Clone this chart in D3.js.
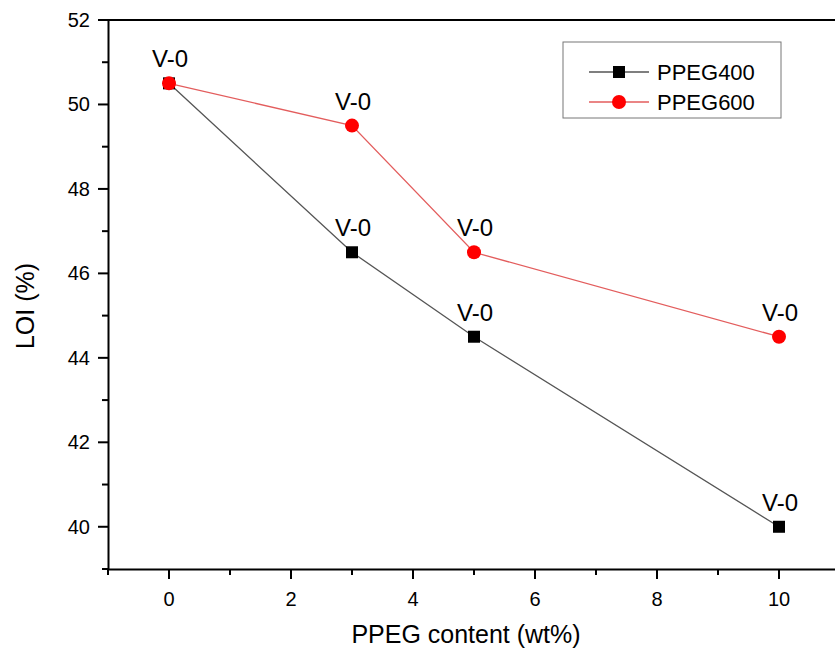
<!DOCTYPE html>
<html>
<head>
<meta charset="utf-8">
<script src="https://cdn.jsdelivr.net/npm/d3@7"></script>
<style>
  body { margin: 0; background: #fff; }
  svg { display: block; font-family: Arial, "Liberation Sans", sans-serif; }
</style>
</head>
<body>
<script>
// data
const content = [0, 3, 5, 10];
const ppeg400 = [50.5, 46.5, 44.5, 40];
const ppeg600 = [50.5, 49.5, 46.5, 44.5];
const ratings400 = ['V-0', 'V-0', 'V-0', 'V-0'];
const ratings600 = ['', 'V-0', 'V-0', 'V-0'];
const xTicks = [0, 2, 4, 6, 8, 10];
const yTicks = [40, 42, 44, 46, 48, 50, 52];

const W = 835, H = 649;
const svg = d3.select('body').append('svg').attr('width', W).attr('height', H);

const x = d3.scaleLinear().domain([-1, 11]).range([108, 840]);
const y = d3.scaleLinear().domain([39, 52]).range([569, 20]);

// frame: top line
svg.append('line')
  .attr('x1', x(-1)).attr('x2', W + 5)
  .attr('y1', y(52)).attr('y2', y(52))
  .attr('stroke', '#000').attr('stroke-width', 2);

// x axis
const xAxis = svg.append('g').attr('transform', 'translate(0,' + y(39) + ')');
xAxis.call(d3.axisBottom(x).tickValues([]).tickSize(0));
xAxis.select('.domain').attr('stroke-width', 2);
xAxis.selectAll('.mt').data(d3.range(-1, 11, 1)).enter().append('line')
  .attr('x1', d => x(d)).attr('x2', d => x(d))
  .attr('y1', 0).attr('y2', d => (d % 2 === 0 ? 10 : 6))
  .attr('stroke', '#000').attr('stroke-width', 2);
xAxis.selectAll('.xl').data(xTicks).enter().append('text')
  .attr('x', d => x(d)).attr('y', 37)
  .attr('fill', '#000')
  .attr('text-anchor', 'middle').attr('font-size', 20)
  .text(d => d);

// y axis
const yAxis = svg.append('g').attr('transform', 'translate(' + x(-1) + ',0)');
yAxis.call(d3.axisLeft(y).tickValues([]).tickSize(0));
yAxis.select('.domain').attr('stroke-width', 2);
yAxis.selectAll('.mt').data(d3.range(39, 53, 1)).enter().append('line')
  .attr('y1', d => y(d)).attr('y2', d => y(d))
  .attr('x1', 0).attr('x2', d => (d % 2 === 0 ? -10 : -6))
  .attr('stroke', '#000').attr('stroke-width', 2);
yAxis.selectAll('.yl').data(yTicks).enter().append('text')
  .attr('x', -18).attr('y', d => y(d) + 7)
  .attr('fill', '#000')
  .attr('text-anchor', 'end').attr('font-size', 20)
  .text(d => d);

// axis titles
svg.append('text')
  .attr('x', 466).attr('y', 643)
  .attr('text-anchor', 'middle').attr('font-size', 25)
  .text('PPEG content (wt%)');
svg.append('text')
  .attr('transform', 'translate(34,306) rotate(-90)')
  .attr('text-anchor', 'middle').attr('font-size', 25)
  .text('LOI (%)');

const line = d3.line().x(d => x(d[0])).y(d => y(d[1]));
const pts400 = content.map((c, i) => [c, ppeg400[i]]);
const pts600 = content.map((c, i) => [c, ppeg600[i]]);

svg.append('path').datum(pts400).attr('d', line)
  .attr('fill', 'none').attr('stroke', '#555').attr('stroke-width', 1.3);
svg.append('path').datum(pts600).attr('d', line)
  .attr('fill', 'none').attr('stroke', '#e35d5d').attr('stroke-width', 1.3);

svg.selectAll('.sq').data(pts400).enter().append('rect')
  .attr('x', d => x(d[0]) - 6).attr('y', d => y(d[1]) - 6)
  .attr('width', 12).attr('height', 12).attr('fill', '#000');
svg.selectAll('.ci').data(pts600).enter().append('circle')
  .attr('cx', d => x(d[0])).attr('cy', d => y(d[1]))
  .attr('r', 7).attr('fill', '#f00');

// flammability ratings
svg.selectAll('.r4').data(pts400).enter().append('text')
  .attr('x', d => x(d[0]) + 1).attr('y', d => y(d[1]) - 16)
  .attr('text-anchor', 'middle').attr('font-size', 24)
  .text((d, i) => ratings400[i]);
svg.selectAll('.r6').data(pts600).enter().append('text')
  .attr('x', d => x(d[0]) + 1).attr('y', d => y(d[1]) - 16)
  .attr('text-anchor', 'middle').attr('font-size', 24)
  .text((d, i) => ratings600[i]);

// legend
const lg = svg.append('g');
lg.append('rect').attr('x', 563).attr('y', 42).attr('width', 218).attr('height', 76)
  .attr('fill', '#fff').attr('stroke', '#777').attr('stroke-width', 1);
const entries = [
  { name: 'PPEG400', color: '#555', shape: 'sq', yy: 72 },
  { name: 'PPEG600', color: '#e35d5d', shape: 'ci', yy: 102 }
];
entries.forEach(e => {
  lg.append('line').attr('x1', 589).attr('x2', 649).attr('y1', e.yy).attr('y2', e.yy)
    .attr('stroke', e.color).attr('stroke-width', 1.3);
  if (e.shape === 'sq') {
    lg.append('rect').attr('x', 613).attr('y', e.yy - 6).attr('width', 12).attr('height', 12).attr('fill', '#000');
  } else {
    lg.append('circle').attr('cx', 619).attr('cy', e.yy).attr('r', 7).attr('fill', '#f00');
  }
  lg.append('text').attr('x', 657).attr('y', e.yy + 8).attr('font-size', 22).text(e.name);
});
</script>
</body>
</html>
